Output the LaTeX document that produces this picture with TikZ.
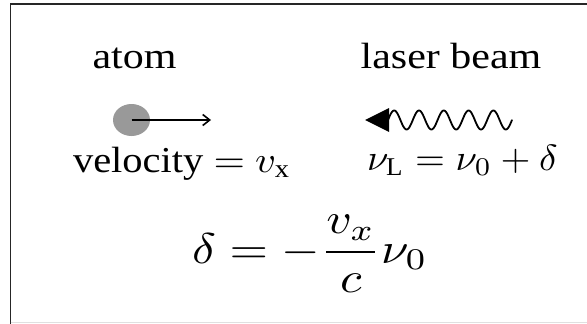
\documentclass[tikz,border=0pt]{standalone}
\usepackage{fontspec}
\setmainfont{Liberation Serif}
\usepackage{graphicx}
\usetikzlibrary{arrows.meta,shapes.geometric}
\tikzset{
  lbl/.style={inner sep=0pt, outer sep=0pt, font=\fontsize{10}{12}\selectfont},
  frameline/.style={line width=1.6pt, draw=black!85},
}
\newcommand{\wide}[1]{\scalebox{4.2}[3.65]{#1}}
\newcommand{\wider}[1]{\scalebox{4.95}[4.3]{#1}}
\begin{document}
\begin{tikzpicture}[x=1pt,y=-1pt]
\useasboundingbox (0,0) rectangle (587,324);
\fill[white] (0,0) rectangle (587,324);
% frame
\draw[frameline] (587,4) -- (10.5,4) -- (10.5,324);
\draw[black!12, line width=1pt] (10.5,322.5) -- (587,322.5);
% titles
\node[lbl, anchor=base] (atom) at (134.5,68) {\wide{atom}};
\node[lbl, anchor=base] (laser) at (451,68) {\wide{laser beam}};
% atom and velocity arrow
\node[ellipse, fill=black!40, minimum width=37pt, minimum height=32pt, inner sep=0pt] (ball) at (131.5,120) {};
\coordinate (vend) at (211,120);
\draw[line width=1.6pt, -{Straight Barb[length=7pt,width=11pt,line width=1.6pt]}] (ball.center) -- (vend);
\node[lbl, anchor=base west] (vel) at (73,172) {\scalebox{4.05}[3.65]{velocity $=$ $v_{\mathrm{x}}$}};
% laser wave
\coordinate (tip) at (365,120);
\coordinate (wstart) at (388,120);
\fill (tip) -- (389,108) -- (389,132) -- cycle;
\draw[line width=1.8pt, line join=round, line cap=round, domain=0:5, samples=200, smooth]
  plot ({388+24.8*\x},{120-9.5*sin(360*\x)});
\node[lbl, anchor=base west] (nuL) at (367,170) {\scalebox{3.85}[3.65]{$\nu_{\mathrm{L}} = \nu_{0} + \delta$}};
% bottom equation
\node[lbl, anchor=base west] (eq) at (192,263) {\wider{$\displaystyle \delta = -\frac{v_x}{c}\nu_0$}};
\end{tikzpicture}
\end{document}
